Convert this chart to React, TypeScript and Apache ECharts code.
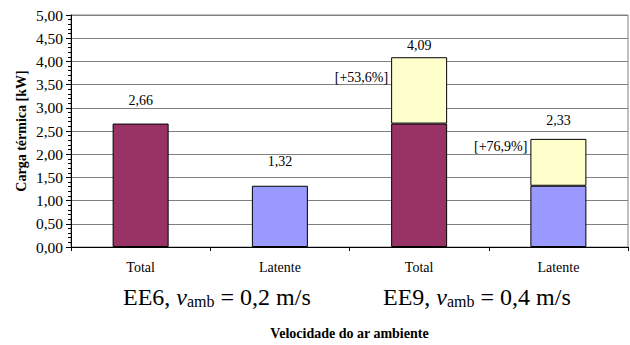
import React, { useEffect, useRef } from "react";
import * as echarts from "echarts";

// Thermal load per case (kW)
const categories = ["Total", "Latente", "Total", "Latente"];
const baseLoad = [2.66, 1.32, 2.66, 1.32];
const totalLoad = [2.66, 1.32, 4.09, 2.33];
const increaseLabels = ["", "", "[+53,6%]", "[+76,9%]"];
const yMin = 0;
const yMax = 5;
const yStep = 0.5;

// Case captions under the category axis
const caseNames = ["EE6", "EE9"];
const caseSpeeds = ["0,2", "0,4"];

const SERIF = "Liberation Serif";
const PURPLE = "#993366";
const BLUE = "#9999FF";
const YELLOW = "#FFFFCC";

const fmt = (v: number) => v.toFixed(2).replace(".", ",");

// label placement tweaks (value label gap above bar, increase label drop below bar top)
const totalGap = [16, 17, 5, 11];
const increaseDrop = [0, 0, 20, 8];
const caseLeft = [123, 383];

export default function App() {
  const ref = useRef<HTMLDivElement>(null);

  useEffect(() => {
    if (!ref.current) return;
    const chart = echarts.init(ref.current, undefined, { renderer: "svg" });

    const extra = totalLoad.map((t, i) => {
      const d = Math.round((t - baseLoad[i]) * 100) / 100;
      return d > 0 ? d : null;
    });

    const captionRich = {
      m: { fontFamily: SERIF, fontSize: 24, lineHeight: 24, color: "#000" },
      v: { fontFamily: SERIF, fontSize: 24, fontStyle: "italic", lineHeight: 24, color: "#000" },
      s: { fontFamily: SERIF, fontSize: 16, lineHeight: 12, verticalAlign: "bottom", color: "#000" },
    };

    chart.setOption({
      animation: false,
      backgroundColor: "#fff",
      textStyle: { fontFamily: SERIF },
      grid: {
        left: 71,
        right: 2,
        top: 15,
        bottom: 97,
        show: true,
        borderColor: "#808080",
        borderWidth: 1,
      },
      xAxis: {
        type: "category",
        data: categories,
        name: "Velocidade do ar ambiente",
        nameLocation: "middle",
        nameGap: 79,
        nameMoveOverlap: false,
        nameTextStyle: { fontFamily: SERIF, fontSize: 14, fontWeight: "bold", color: "#000" },
        axisLine: { lineStyle: { color: "#000", width: 1 } },
        axisTick: { show: true, length: 4, lineStyle: { color: "#000" } },
        axisLabel: { fontFamily: SERIF, fontSize: 14, color: "#000", margin: 13 },
        splitLine: { show: false },
      },
      yAxis: {
        type: "value",
        min: yMin,
        max: yMax,
        interval: yStep,
        name: "Carga térmica [kW]",
        nameLocation: "middle",
        nameRotate: 90,
        nameGap: 43,
        nameMoveOverlap: false,
        nameTextStyle: { fontFamily: SERIF, fontSize: 14, fontWeight: "bold", color: "#000" },
        axisLine: { show: true, lineStyle: { color: "#000", width: 1 } },
        axisTick: { show: true, length: 5, lineStyle: { color: "#000" } },
        minorTick: { show: true, splitNumber: 5, length: 3, lineStyle: { color: "#000" } },
        axisLabel: {
          fontFamily: SERIF,
          fontSize: 15.5,
          color: "#000",
          margin: 8,
          formatter: (v: number) => fmt(v),
        },
        splitLine: { show: true, lineStyle: { color: "#808080", width: 1 } },
      },
      series: [
        {
          name: "base",
          type: "bar",
          stack: "load",
          barWidth: 56,
          data: baseLoad.map((v, i) => ({
            value: v,
            itemStyle: { color: categories[i] === "Total" ? PURPLE : BLUE },
          })),
          itemStyle: { borderColor: "#000", borderWidth: 1 },
        },
        {
          name: "increase",
          type: "bar",
          stack: "load",
          barWidth: 56,
          data: extra.map((v, i) => ({
            value: v,
            label: {
              show: v !== null,
              position: [-3, increaseDrop[i]],
              align: "right",
              verticalAlign: "middle",
              formatter: () => increaseLabels[i],
            },
          })),
          itemStyle: { color: YELLOW, borderColor: "#000", borderWidth: 1 },
          label: { fontFamily: SERIF, fontSize: 14, color: "#000" },
        },
        {
          name: "total",
          type: "bar",
          stack: "load",
          barWidth: 56,
          silent: true,
          data: totalLoad.map((t, i) => ({
            value: 0,
            label: {
              show: true,
              position: "top",
              distance: totalGap[i],
              formatter: () => fmt(t),
            },
          })),
          itemStyle: { color: "transparent", borderWidth: 0 },
          label: { fontFamily: SERIF, fontSize: 14, color: "#000" },
        },
      ],
      graphic: caseNames.map((name, i) => ({
        type: "text",
        left: caseLeft[i],
        top: 285,
        style: {
          text: `{m|${name}, }{v|v}{s|amb}{m| = ${caseSpeeds[i]} m/s}`,
          rich: captionRich,
        },
      })),
    });

    return () => chart.dispose();
  }, []);

  return (
    <div
      ref={ref}
      style={{ position: "absolute", left: 0, top: 0, width: 630, height: 345 }}
    />
  );
}
